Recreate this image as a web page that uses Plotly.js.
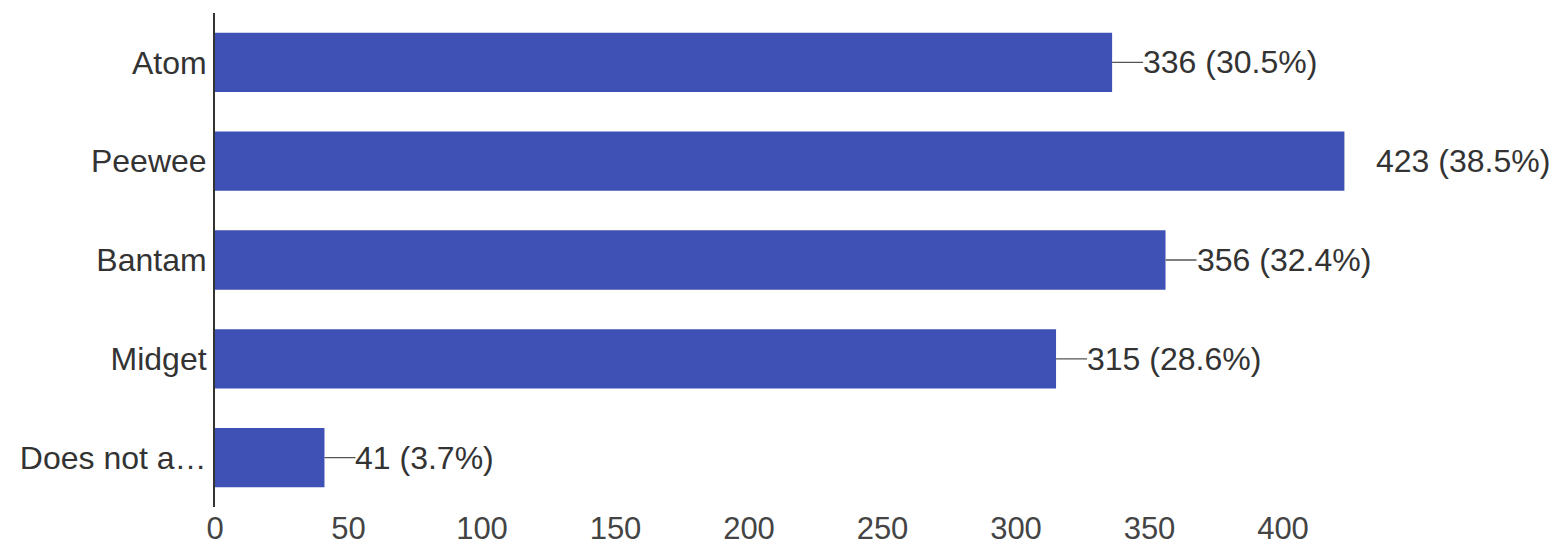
<!DOCTYPE html>
<html>
<head>
<meta charset="utf-8">
<script src="https://cdn.plot.ly/plotly-3.0.1.min.js"></script>
<style>html,body{margin:0;padding:0;background:#fff;}#chart{width:1558px;height:550px;}</style>
</head>
<body>
<div id="chart"></div>
<script>
const categories = ["Atom", "Peewee", "Bantam", "Midget", "Does not a\u2026"];
const counts = [336, 423, 356, 315, 41];
const percents = ["30.5%", "38.5%", "32.4%", "28.6%", "3.7%"];
const showLeader = [true, false, true, true, true];
const xTicks = [0, 50, 100, 150, 200, 250, 300, 350, 400];

const FONT = "Liberation Sans, Arial, sans-serif";

const trace = {
  type: "bar",
  orientation: "h",
  y: categories,
  x: counts,
  marker: { color: "#3f51b5", line: { width: 0 } },
  hoverinfo: "none"
};

const annotations = categories.map((c, i) => {
  const txt = counts[i] + " (" + percents[i] + ")";
  if (showLeader[i]) {
    return {
      x: counts[i], y: c, xref: "x", yref: "y",
      text: txt, showarrow: true, arrowhead: 0, arrowwidth: 1.3,
      arrowcolor: "#555", ax: 31, ay: 0, xanchor: "left", yanchor: "middle",
      standoff: 0, borderpad: 0, borderwidth: 0,
      font: { family: FONT, size: 32, color: "#333" }
    };
  }
  return {
    x: counts[i], y: c, xref: "x", yref: "y",
    text: txt, showarrow: false, xanchor: "left", yanchor: "middle",
    xshift: 31, borderpad: 0,
    font: { family: FONT, size: 32, color: "#333" }
  };
});

const layout = {
  width: 1558, height: 550,
  margin: { l: 215, r: 20, t: 12.5, b: 43, pad: 0 },
  paper_bgcolor: "#ffffff", plot_bgcolor: "#ffffff",
  bargap: 0.4,
  showlegend: false,
  xaxis: {
    range: [0, 1323 / 2.67],
    tickvals: xTicks, ticktext: xTicks.map(String),
    showgrid: false, zeroline: false, showline: false,
    ticks: "", ticklabelstandoff: 0,
    tickfont: { family: FONT, size: 31, color: "#444" }
  },
  yaxis: {
    autorange: "reversed",
    showgrid: false, zeroline: false,
    showline: true, linecolor: "#333", linewidth: 2,
    ticks: "", ticklabelstandoff: 0,
    tickfont: { family: FONT, size: 32, color: "#333" }
  },
  annotations: annotations
};

Plotly.newPlot("chart", [trace], layout, { staticPlot: true, displayModeBar: false });
</script>
</body>
</html>
